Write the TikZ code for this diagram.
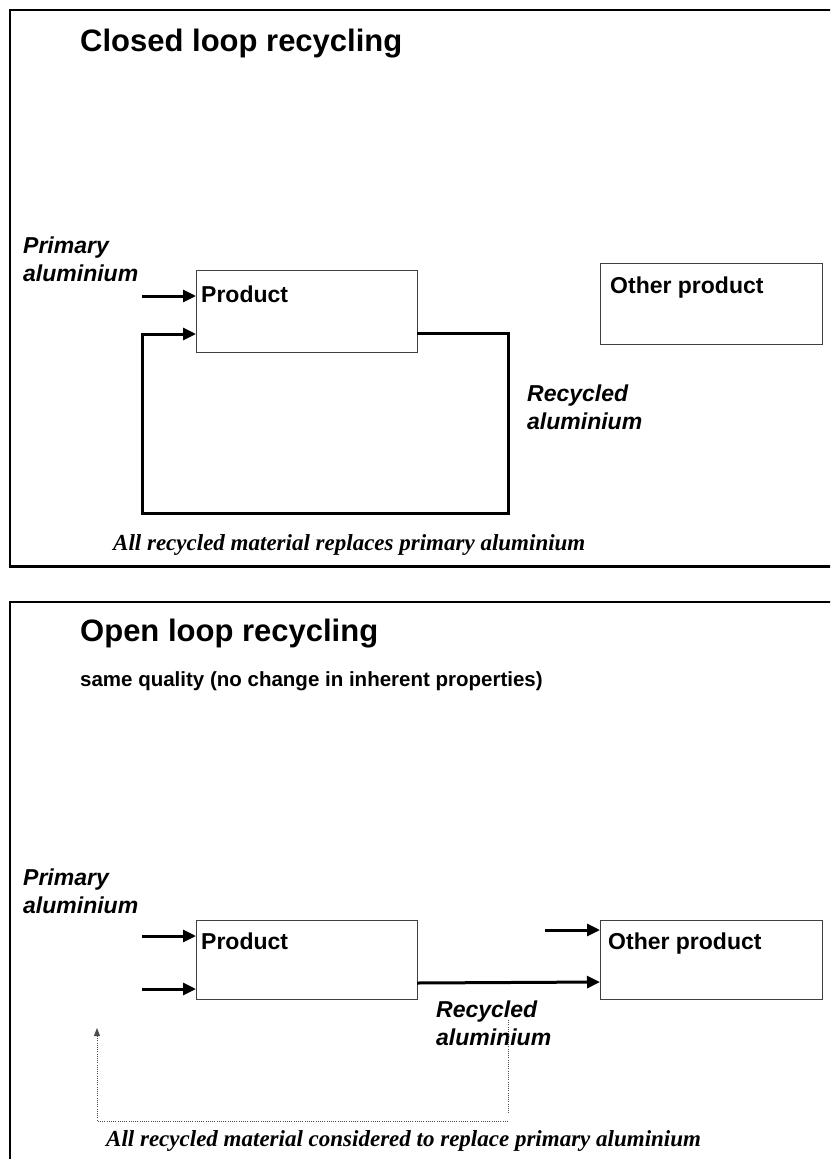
\documentclass[tikz,border=0pt]{standalone}
\usepackage{fontspec}
\setmainfont{Liberation Sans}
\newfontfamily\capfont{Liberation Serif}
\usetikzlibrary{arrows.meta}
\tikzset{
  framel/.style={line width=2pt, line cap=rect},
  framebot/.style={line width=3pt},
  boxn/.style={draw=black!75, line width=1.1pt, inner sep=0pt, anchor=north west},
  flow/.style={line width=3pt, -{Triangle[length=13pt,width=12pt]}},
  loopflow/.style={line width=3pt, line join=miter, -{Triangle[length=13pt,width=12pt]}},
  dotflow/.style={dash pattern=on 1pt off 1.2pt, line width=0.9pt, draw=black!70, -{Triangle[length=8pt,width=6pt]}},
  dotl/.style={dash pattern=on 1pt off 1.2pt, line width=0.9pt, draw=black!70},
  ttl/.style={inner sep=0pt, anchor=base west, font=\fontsize{31}{37}\selectfont\bfseries},
  sub/.style={inner sep=0pt, anchor=base west, font=\fontsize{20.5}{25}\selectfont\bfseries},
  lbl/.style={inner sep=0pt, anchor=base west, font=\fontsize{23}{28}\selectfont\bfseries},
  ilbl/.style={inner sep=0pt, anchor=base west, align=left, font=\fontsize{23}{28}\selectfont\bfseries\itshape},
  capt/.style={inner sep=0pt, anchor=base west, font=\capfont\fontsize{23}{28}\selectfont\bfseries\itshape},
}
\begin{document}
\begin{tikzpicture}[x=1pt,y=-1pt]
\useasboundingbox (0,0) rectangle (830,1159);
\clip (0,0) rectangle (830,1159);
% ---------- top panel ----------
\draw[framel] (840,10) -- (10,10) -- (10,566);
\draw[framebot] (9,566) -- (840,566);
\node[ttl] (t1) at (80,51) {Closed loop recycling};
\node[ilbl] (pa1) at (23,281) {Primary\\aluminium};
\node[boxn, minimum width=221pt, minimum height=82pt] (prodA) at (196,270) {};
\node[lbl] (prodAt) at (201,302) {Product};
\node[boxn, minimum width=222pt, minimum height=81pt] (othA) at (600,263) {};
\node[lbl] (othAt) at (610,293) {Other product};
\node[ilbl] (ra1) at (527,429) {Recycled\\aluminium};
\node[capt] (c1) at (113,550) {All recycled material replaces primary aluminium};
\coordinate (a1s) at (142,296);
\draw[flow] (a1s) -- (a1s -| prodA.west);
\coordinate (l0) at (417,333);
\coordinate (l1) at (508,333);
\coordinate (l2) at (508,513);
\coordinate (l3) at (142,513);
\coordinate (l4) at (142,334);
\draw[loopflow] (l0) -- (l1) -- (l2) -- (l3) -- (l4) -- (l4 -| prodA.west);
% ---------- bottom panel ----------
\draw[framel] (840,602) -- (10,602) -- (10,1170);
\node[ttl] (t2) at (80,641) {Open loop recycling};
\node[sub] (s2) at (80,686) {same quality (no change in inherent properties)};
\node[ilbl] (pa2) at (23,913) {Primary\\aluminium};
\node[boxn, minimum width=221pt, minimum height=79pt] (prodB) at (196,920) {};
\node[lbl] (prodBt) at (201,949) {Product};
\node[boxn, minimum width=222pt, minimum height=79pt] (othB) at (600,920) {};
\node[lbl] (othBt) at (608,949) {Other product};
\node[ilbl] (ra2) at (436,1045) {Recycled\\aluminium};
\node[capt] (c2) at (106,1146) {All recycled material considered to replace primary aluminium};
\coordinate (b1s) at (142,936);
\coordinate (b2s) at (142,989);
\coordinate (b3s) at (545,930);
\draw[flow] (b1s) -- (b1s -| prodB.west);
\draw[flow] (b2s) -- (b2s -| prodB.west);
\draw[flow] (b3s) -- (b3s -| othB.west);
\coordinate (r0) at (417,983);
\coordinate (r1) at (600,982);
\draw[flow] (r0) -- (r1);
\coordinate (d0) at (508,1020);
\coordinate (d1) at (508,1114);
\coordinate (d2) at (508,1121);
\coordinate (d3) at (97,1121);
\coordinate (d4) at (97,1028);
\draw[dotl] (d0) -- (d1);
\draw[dotflow] (d2) -- (d3) -- (d4);
\end{tikzpicture}
\end{document}
